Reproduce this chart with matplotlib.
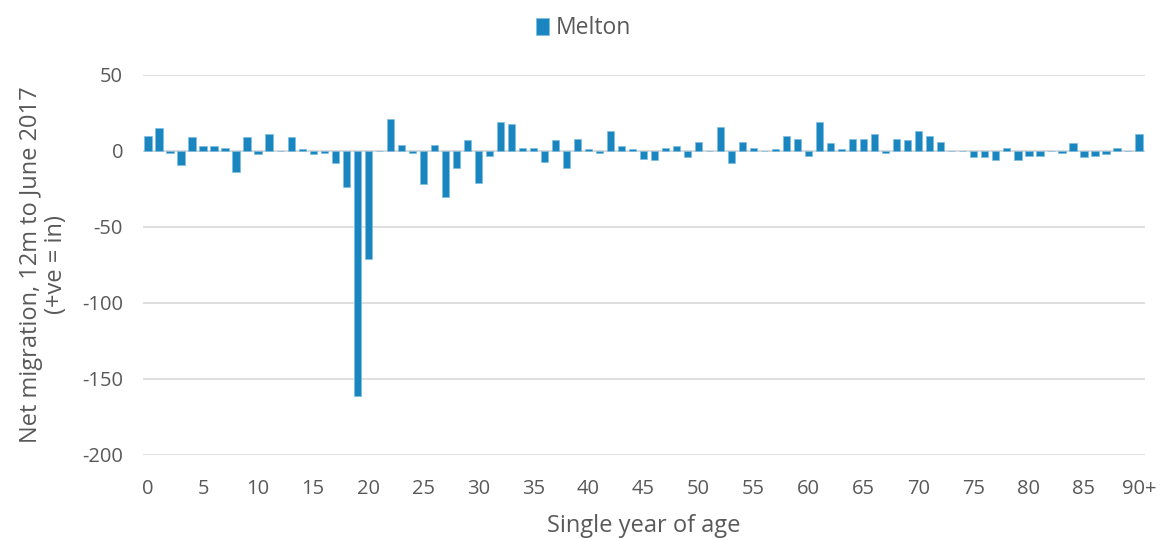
import matplotlib
matplotlib.use("Agg")
import matplotlib.pyplot as plt
import numpy as np

plt.rcParams['font.family'] = ['Open Sans', 'DejaVu Sans']
plt.rcParams['axes.unicode_minus'] = False

ages = list(range(91))
tick_labels = [str(a) if a < 90 else "90+" for a in range(0, 91, 5)]
melton = [10, 15, -1, -9, 9, 3, 3, 2, -14, 9,
          -2, 11, 0, 9, 1, -2, -1, -8, -24, -161,
          -71, 0, 21, 4, -1, -22, 4, -30, -11, 7,
          -21, -3, 19, 18, 2, 2, -7, 7, -11, 8,
          1, -1, 13, 3, 1, -5, -6, 2, 3, -4,
          6, 0, 16, -8, 6, 2, 0, 1, 10, 8,
          -3, 19, 5, 1, 8, 8, 11, -1, 8, 7,
          13, 10, 6, 0, 0, -4, -4, -6, 2, -6,
          -3, -3, 0, -1, 5, -4, -3, -2, 2, 0,
          11]

text_color = '#595959'
bar_color = '#1A86C0'

fig = plt.figure(figsize=(11.62, 5.40), dpi=100)
ax = fig.add_axes([142.5/1162, 1-455/540, (1144.5-142.5)/1162, (455-75)/540])

ax.bar(ages, melton, width=0.66, color=bar_color, edgecolor='#7FBDE0', linewidth=0.5,
       label='Melton', zorder=3)

ax.set_xlim(-0.5, 90.5)
ax.set_ylim(-200, 50)
ax.set_yticks(np.arange(-200, 51, 50))
ax.set_xticks(list(range(0, 91, 5)))
ax.set_xticklabels(tick_labels)
ax.grid(axis='y', color='#D9D9D9', linewidth=1.2, zorder=0)
ax.axhline(0, color='#D9D9D9', linewidth=1.2, zorder=1)
for s in ax.spines.values():
    s.set_visible(False)
ax.tick_params(axis='both', length=0, labelsize=14.5, colors=text_color)
ax.tick_params(axis='y', pad=14)
ax.tick_params(axis='x', pad=17)

ax.set_ylabel("Net migration, 12m to June 2017\n(+ve = in)", fontsize=17,
              color=text_color, labelpad=10, linespacing=1.05)
ax.set_xlabel("Single year of age", fontsize=17, color=text_color, labelpad=11)

leg = fig.legend(loc='upper center', bbox_to_anchor=(0.502, 1.008), frameon=False,
                 fontsize=16.5, handlelength=0.55, handleheight=0.75, handletextpad=0.3)
for t in leg.get_texts():
    t.set_color(text_color)

fig.savefig('out.png', dpi=100)
